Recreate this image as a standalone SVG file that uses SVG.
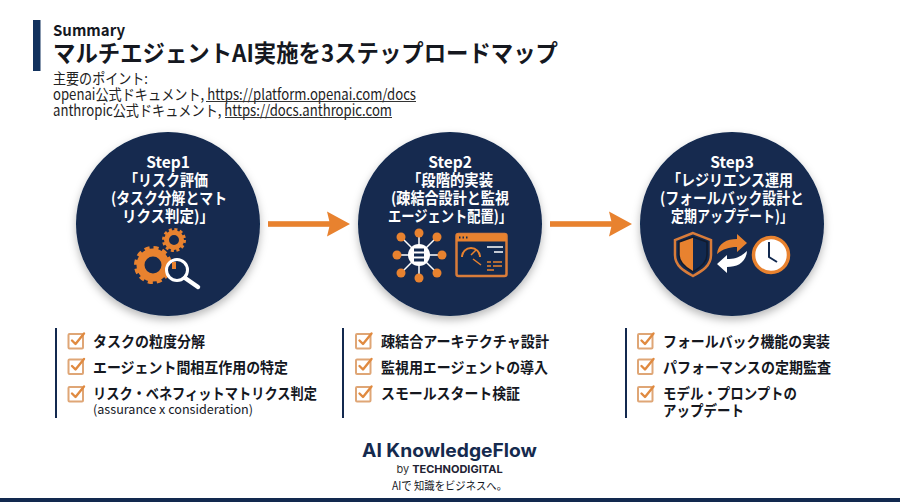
<svg xmlns="http://www.w3.org/2000/svg" width="900" height="502" viewBox="0 0 900 502">
<style>
text{font-family:"Noto Sans CJK JP","Noto Sans",sans-serif;fill:#15181f}
.b{font-weight:700}
.c{fill:#fff;font-weight:700;font-size:15.500px;text-anchor:middle}
.l{font-size:15px;font-weight:700}
.h{font-size:15px;fill:#222}
.u{stroke:#333;stroke-width:1;fill:none}
.bar{stroke:#13294f;stroke-width:2;fill:none}
.or{fill:#e8822f}
.ck{fill:none;stroke:#dfa676;stroke-width:2;stroke-linejoin:round}
.ckm{fill:none;stroke:#e08a40;stroke-width:2.400;stroke-linecap:round;stroke-linejoin:round}
.circ{fill:#12294f;filter:url(#sh)}
</style>
<defs>
<filter id="sh" x="-20%" y="-20%" width="140%" height="140%"><feDropShadow dx="0" dy="4" stdDeviation="4" flood-color="#000" flood-opacity=".28"/></filter>
<g id="cb"><rect x="1" y="2" width="14.500" height="14.500" rx="1" class="ck"/><path d="M4.500 8.500 L8 12 L16.500 1.500" class="ckm"/></g>
<g id="arr"><rect x="0" y="-2.800" width="62" height="5.600" class="or"/><path d="M59 -12.500 L82 0 L59 12.500 L62 0Z" class="or"/></g>
</defs>
<rect width="900" height="502" fill="#fff"/>
<g id="header">
<rect x="33" y="20" width="7.500" height="51" fill="#12325e"/>
<text x="53" y="36" class="b" font-size="15" textLength="72" lengthAdjust="spacingAndGlyphs">Summary</text>
<text x="53" y="62" class="b" font-size="23.500" textLength="505" lengthAdjust="spacingAndGlyphs">マルチエジェントAI実施を3ステップロードマップ</text>
<text class="h"><tspan x="53" y="84" textLength="95" lengthAdjust="spacingAndGlyphs">主要のポイント:</tspan><tspan x="53" y="100" textLength="363" lengthAdjust="spacingAndGlyphs">openai公式ドキュメント, https://platform.openai.com/docs</tspan><tspan x="53" y="116" textLength="339" lengthAdjust="spacingAndGlyphs">anthropic公式ドキュメント, https://docs.anthropic.com</tspan></text>
<path d="M206 101.500H416M225 117.500H392" class="u"/>
</g>
<g id="connectors">
<use href="#arr" x="268" y="224"/>
<use href="#arr" x="550" y="224"/>
</g>
<g id="step1">
<circle cx="168" cy="224" r="92" class="circ"/>
<text class="c"><tspan x="168" y="168">Step1</tspan><tspan x="166" y="186" textLength="84" lengthAdjust="spacingAndGlyphs">「リスク評価</tspan><tspan x="169" y="204" textLength="116" lengthAdjust="spacingAndGlyphs">(タスク分解とマト</tspan><tspan x="168" y="222" textLength="92" lengthAdjust="spacingAndGlyphs">リクス判定)」</tspan></text>
<g fill="none" stroke="#e8822f">
<circle cx="174" cy="240" r="7.500" stroke-width="5"/>
<circle cx="174" cy="240" r="10.500" stroke-width="3" stroke-dasharray="3 2.500"/>
<circle cx="153" cy="265" r="12.500" stroke-width="8"/>
<circle cx="153" cy="265" r="17" stroke-width="4" stroke-dasharray="5 3.900"/>
</g>
<circle cx="177" cy="270" r="10.500" fill="#12294f" stroke="#fff" stroke-width="3"/>
<rect x="172" y="262" width="4" height="7" class="or"/>
<path d="M185 278 L198 287" stroke="#fff" stroke-width="4.500" stroke-linecap="round"/>
</g>
<g id="step2">
<circle cx="450" cy="224" r="92" class="circ"/>
<text class="c"><tspan x="450" y="168">Step2</tspan><tspan x="450" y="186" textLength="86" lengthAdjust="spacingAndGlyphs">「段階的実装</tspan><tspan x="450" y="204" textLength="118" lengthAdjust="spacingAndGlyphs">(疎結合設計と監視</tspan><tspan x="450" y="222" textLength="124" lengthAdjust="spacingAndGlyphs">エージェント配置)」</tspan></text>
<path d="M419 255 V233 M419 255 V278 M419 255 H397 M419 255 H442 M419 255 L401 237 M419 255 L437 237 M419 255 L401 273 M419 255 L437 273" stroke="#fff" stroke-width="1.500"/>
<g class="or"><circle cx="419" cy="233" r="4.500"/><circle cx="419" cy="278" r="4.500"/><circle cx="397" cy="255" r="4.500"/><circle cx="442" cy="255" r="4.500"/><circle cx="401" cy="237" r="4.500"/><circle cx="437" cy="237" r="4.500"/><circle cx="401" cy="273" r="4.500"/><circle cx="437" cy="273" r="4.500"/></g>
<circle cx="419" cy="255" r="11" fill="#fff"/>
<path d="M414 250H424M414 255H424M414 260H424" stroke="#12294f" stroke-width="3"/>
<rect x="456.500" y="234" width="50" height="42" rx="2" fill="#12294f" stroke="#d97c3a" stroke-width="2.500"/>
<rect x="456.500" y="234" width="50" height="7.500" class="or"/>
<path d="M459 237.500h1.500m2 0h1.500m2 0h1.500" stroke="#12294f" stroke-width="2"/>
<path d="M462 257 A9 9 0 0 1 480 257" fill="none" stroke="#e8822f" stroke-width="2"/>
<path d="M471 255 L476 250 M473 259 L481 265" stroke="#e8822f" stroke-width="1.500"/>
<path d="M487 247H503M494 252H503" stroke="#fff" stroke-width="1.500"/>
<path d="M487 262H491M493 262H502M487 266H491M493 266H502M487 270H494" stroke="#e8822f" stroke-width="1.500"/>
</g>
<g id="step3">
<circle cx="732" cy="224" r="92" class="circ"/>
<text class="c"><tspan x="732" y="168">Step3</tspan><tspan x="730" y="186" textLength="126" lengthAdjust="spacingAndGlyphs">「レジリエンス運用</tspan><tspan x="732" y="204" textLength="144" lengthAdjust="spacingAndGlyphs">(フォールバック設計と</tspan><tspan x="732" y="222" textLength="122" lengthAdjust="spacingAndGlyphs">定期アップデート)」</tspan></text>
<path d="M693 233 L675 240 V255 C675 266 684 271 693 276 C702 271 711 266 711 255 V240Z" fill="#12294f" stroke="#d97c3a" stroke-width="2.500"/>
<path d="M693 237 L679 242 V255 C679 263 686 268 693 272Z" class="or"/>
<path d="M693 237 L707 242 V255 C707 263 700 268 693 272 M693 237 L679 242 V255 C679 263 686 268 693 272" fill="none" stroke="#111a2c" stroke-width="1.500"/>
<path d="M717 254 C718 243 727 239 737 239 V234 L747 243 L737 252 V247 C729 247 723 249 717 254Z" class="or"/>
<path d="M747 251 C746 263 737 267 727 267 V273 L717 264 L727 255 V259 C735 259 741 257 747 251Z" fill="#fff"/>
<circle cx="771" cy="255" r="17.500" fill="#fff" stroke="#e8822f" stroke-width="3.500"/>
<path d="M769 242 V257 L777 262" fill="none" stroke="#12294f" stroke-width="2"/>
</g>
<g id="list1">
<path d="M56 328V418" class="bar"/>
<use href="#cb" x="67.500" y="332"/><text x="93" y="346.500" class="l" textLength="112" lengthAdjust="spacingAndGlyphs">タスクの粒度分解</text>
<use href="#cb" x="67.500" y="357.500"/><text x="93" y="372.500" class="l" textLength="195" lengthAdjust="spacingAndGlyphs">エージェント間相互作用の特定</text>
<use href="#cb" x="67.500" y="385"/><text class="l"><tspan x="93" y="398.500" textLength="224" lengthAdjust="spacingAndGlyphs">リスク・ベネフィットマトリクス判定</tspan><tspan x="93" y="414" font-size="12.500" font-weight="400" textLength="160" lengthAdjust="spacingAndGlyphs">(assurance x consideration)</tspan></text>
</g>
<g id="list2">
<path d="M343 328V418" class="bar"/>
<use href="#cb" x="355" y="332"/><text x="381" y="346.500" class="l" textLength="168" lengthAdjust="spacingAndGlyphs">疎結合アーキテクチャ設計</text>
<use href="#cb" x="355" y="357.500"/><text x="381" y="372.500" class="l" textLength="167" lengthAdjust="spacingAndGlyphs">監視用エージェントの導入</text>
<use href="#cb" x="355" y="385"/><text x="381" y="398.500" class="l" textLength="139" lengthAdjust="spacingAndGlyphs">スモールスタート検証</text>
</g>
<g id="list3">
<path d="M626 328V418" class="bar"/>
<use href="#cb" x="637" y="332"/><text x="663" y="346.500" class="l" textLength="167" lengthAdjust="spacingAndGlyphs">フォールバック機能の実装</text>
<use href="#cb" x="637" y="357.500"/><text x="663" y="372.500" class="l" textLength="168" lengthAdjust="spacingAndGlyphs">パフォーマンスの定期監査</text>
<use href="#cb" x="637" y="385"/><text class="l"><tspan x="663" y="398.500" textLength="134" lengthAdjust="spacingAndGlyphs">モデル・プロンプトの</tspan><tspan x="663" y="415.500" textLength="81" lengthAdjust="spacingAndGlyphs">アップデート</tspan></text>
</g>
<g id="footer">
<text x="449.500" y="456.500" text-anchor="middle" font-size="18.500" font-weight="700" style="font-family:'Inter','Liberation Sans',sans-serif;fill:#152a4e" textLength="175" lengthAdjust="spacingAndGlyphs">AI KnowledgeFlow</text>
<text x="449.500" y="473" text-anchor="middle" font-size="11" style="font-family:'Inter','Liberation Sans',sans-serif;fill:#333">by <tspan font-weight="700" fill="#223">TECHNODIGITAL</tspan></text>
<text x="449.500" y="490" text-anchor="middle" font-size="11.500" fill="#333" textLength="115" lengthAdjust="spacingAndGlyphs">AIで 知識をビジネスへ。</text>
<rect x="0" y="498" width="900" height="4" fill="#12294f"/>
</g>
</svg>
